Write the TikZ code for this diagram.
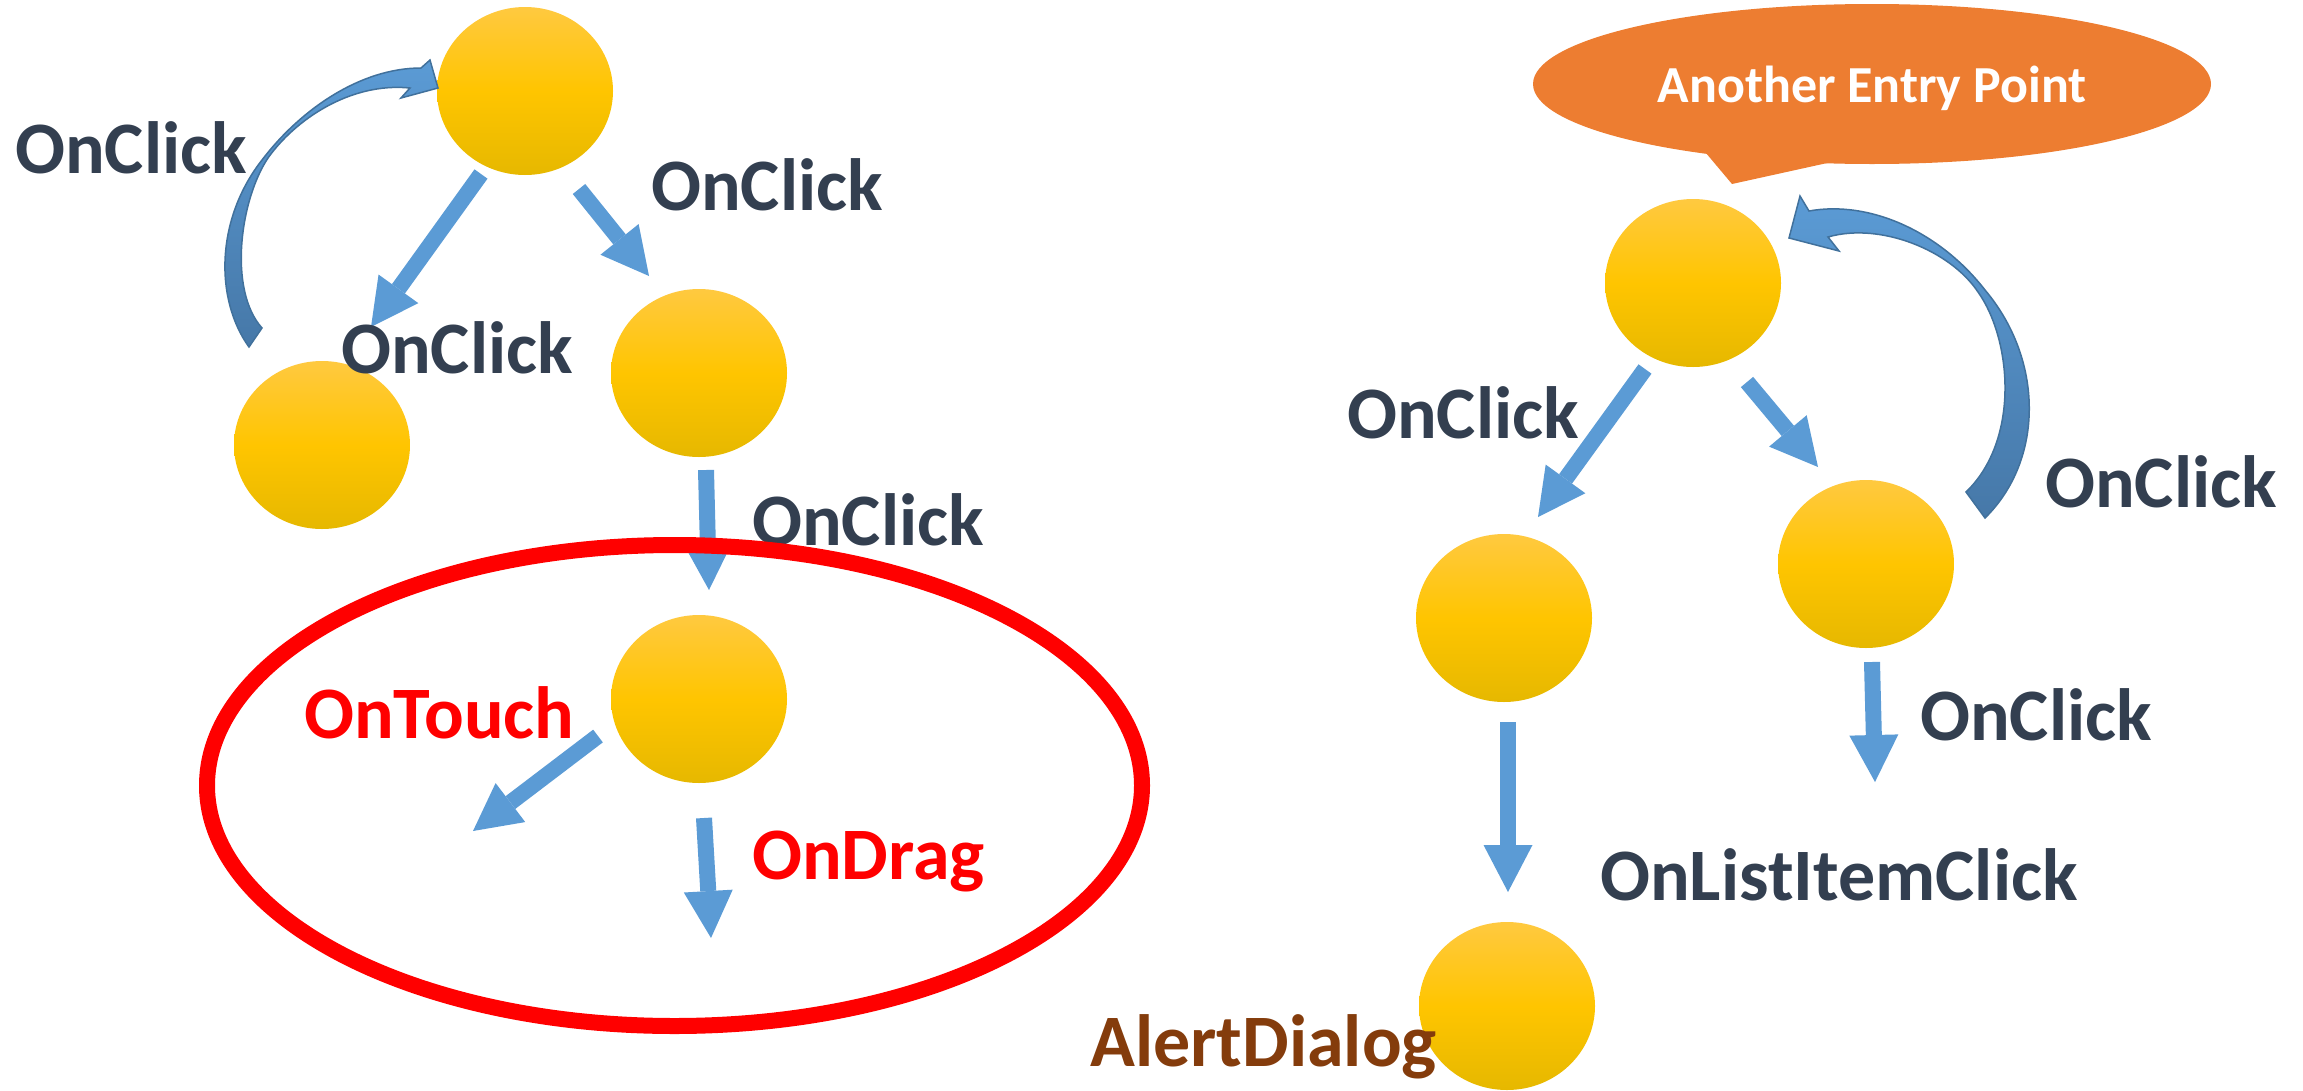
\documentclass[tikz,border=0pt]{standalone}
\usepackage{fontspec}
\setmainfont{Carlito}
\usetikzlibrary{arrows.meta,shapes.geometric}
\definecolor{ytop}{RGB}{255,201,64}
\definecolor{ymid}{RGB}{255,197,0}
\definecolor{ybot}{RGB}{230,184,0}
\definecolor{ablue}{RGB}{91,155,213}
\definecolor{cdark}{RGB}{70,120,168}
\definecolor{cline}{RGB}{65,113,156}
\definecolor{txt}{RGB}{51,63,80}
\definecolor{brn}{RGB}{132,60,12}
\definecolor{org}{RGB}{237,125,49}
\begin{document}
\begin{tikzpicture}[x=1pt,y=-1pt,
  circ/.style={ellipse,minimum width=176pt,minimum height=168pt,inner sep=0pt,
    top color=ytop,bottom color=ybot,middle color=ymid},
  blk/.style={draw=ablue,line width=16pt,-{Triangle[length=47pt,width=49pt,line width=0pt]}},
  lbl/.style={anchor=base west,inner sep=0pt,font=\fontsize{74}{80}\selectfont\bfseries,text=txt},
  rlbl/.style={lbl,text=red},
  curv/.style={top color=ablue,bottom color=cdark,draw=cline,line width=1.5pt}]
\useasboundingbox (0,0) rectangle (2303,1090);
% callout
\fill[org] (1695,140) -- (1732,184) -- (1850,158) -- cycle;
\node[ellipse,fill=org,minimum width=678pt,minimum height=160pt,inner sep=0pt] (co) at (1872,84) {};
\node[anchor=base,inner sep=0pt,text=white,font=\fontsize{52}{60}\selectfont\bfseries] (cot) at (1872,102) {Another Entry Point};
% circles
\node[circ] (N1) at (525,91) {};
\node[circ] (N2) at (322,445) {};
\node[circ] (N3) at (699,373) {};
\node[circ] (N4) at (699,699) {};
\node[circ] (R1) at (1693,283) {};
\node[circ] (R2) at (1504,618) {};
\node[circ] (R3) at (1866,564) {};
\node[circ] (R4) at (1507,1006) {};
% arrow end points
\coordinate (a1s) at (481,174); \coordinate (a1e) at (371,327);
\coordinate (a2s) at (579,189); \coordinate (a2e) at (649,276);
\coordinate (a3s) at (706,470); \coordinate (a3e) at (709,590);
\coordinate (a4s) at (598,736); \coordinate (a4e) at (473,831);
\coordinate (a5s) at (704,818); \coordinate (a5e) at (711,938);
\coordinate (b1s) at (1645,369); \coordinate (b1e) at (1538,517);
\coordinate (b2s) at (1747,382); \coordinate (b2e) at (1818,467);
\coordinate (b3s) at (1872,662); \coordinate (b3e) at (1875,782);
\coordinate (b4s) at (1508,722); \coordinate (b4e) at (1508,892);
\draw[blk] (a1s) -- (a1e);
\draw[blk] (a2s) -- (a2e);
\draw[blk] (a3s) -- (a3e);
\draw[blk] (a4s) -- (a4e);
\draw[blk] (a5s) -- (a5e);
\draw[blk] (b1s) -- (b1e);
\draw[blk] (b2s) -- (b2e);
\draw[blk] (b3s) -- (b3e);
\draw[blk] (b4s) -- (b4e);
% curved arrows
\shadedraw[curv] (249,347) .. controls (215,300) and (215,220) .. (262,160)
  .. controls (300,110) and (360,68) .. (421,68)
  -- (430,60) -- (438,88) -- (401,98) -- (410,88)
  .. controls (350,82) and (295,120) .. (268,158)
  .. controls (240,200) and (228,290) .. (262,328) -- cycle;
\shadedraw[curv] (1985,518) .. controls (2044,460) and (2044,360) .. (1985,290)
  .. controls (1940,232) and (1870,200) .. (1809,211)
  -- (1800,196) -- (1789,238) -- (1839,251) -- (1828,237)
  .. controls (1880,222) and (1950,250) .. (1978,292)
  .. controls (2012,340) and (2020,440) .. (1966,492) -- cycle;
% labels
\node[lbl] (l1) at (15,173) {OnClick};
\node[lbl] (l2) at (651,210) {OnClick};
\node[lbl] (l3) at (341,373) {OnClick};
\node[lbl] (l4) at (752,545) {OnClick};
\node[rlbl] (l5) at (304,738) {OnTouch};
\node[rlbl] (l6) at (752,879) {OnDrag};
\node[lbl] (l7) at (1347,438) {OnClick};
\node[lbl] (l8) at (2045,507) {OnClick};
\node[lbl] (l9) at (1920,740) {OnClick};
\node[lbl] (l10) at (1600,900) {OnListItemClick};
\node[lbl,text=brn] (l11) at (1090,1066) {AlertDialog};
% red ring
\node[ellipse,draw=red,line width=16pt,minimum width=935pt,minimum height=481pt,inner sep=0pt] (ring) at (674.5,785.5) {};
\end{tikzpicture}
\end{document}
